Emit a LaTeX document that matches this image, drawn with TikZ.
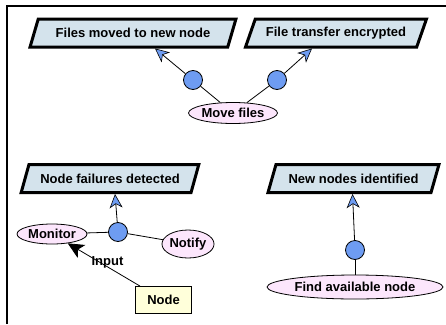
\documentclass[tikz,border=0pt]{standalone}
\usepackage{fontspec}
\setmainfont{Liberation Sans}
\usetikzlibrary{shapes.geometric,arrows.meta}
\definecolor{parafill}{HTML}{D4E3EC}
\definecolor{ellfill}{HTML}{FCE6FC}
\definecolor{circfill}{HTML}{6E9CF2}
\definecolor{boxfill}{HTML}{FFFFDA}
\tikzset{
  lbl/.style={font=\fontsize{13pt}{15pt}\selectfont\bfseries},
  para/.style={lbl, trapezium, trapezium left angle=55, trapezium right angle=125,
    trapezium stretches=true, draw=black, line width=3pt, fill=parafill,
    minimum height=28pt, inner sep=0pt},
  oval/.style={lbl, ellipse, draw=black, line width=0.8pt, fill=ellfill, inner sep=0pt},
  dot/.style={circle, draw=black, line width=0.8pt, fill=circfill, minimum size=19pt, inner sep=0pt},
  boxnode/.style={lbl, rectangle, draw=black, line width=0.8pt, fill=boxfill,
    minimum width=56pt, minimum height=27pt, inner sep=0pt},
  conn/.style={draw=black, line width=0.8pt},
  bluearr/.style={conn, -{Stealth[length=14pt,width=13pt,inset=4pt,fill=circfill,line width=0.6pt]}},
  blackarr/.style={conn, -{Stealth[length=16pt,width=15pt,inset=4pt]}}
}
\begin{document}
\begin{tikzpicture}[x=1pt,y=-1pt]
\useasboundingbox (0,0) rectangle (446,324);
\draw[line width=2pt] (7,324) -- (7,6) -- (446,6);

\node[para, minimum width=206pt] (p1) at (133,33) {Files moved to new node};
\node[para, minimum width=181pt] (p2) at (336,33) {File transfer encrypted};
\node[para, minimum width=178pt] (p3) at (110,178.5) {Node failures detected};
\node[para, minimum width=171pt] (p4) at (353.5,178.5) {New nodes identified};

\node[dot] (c1) at (193,80) {};
\node[dot] (c2) at (277,80) {};
\node[dot] (c3) at (118,232) {};
\node[dot] (c4) at (355,250) {};

\node[oval, minimum width=87pt, minimum height=21pt] (mf) at (233,113) {Move files};
\node[oval, minimum width=70pt, minimum height=20pt] (mon) at (52,234) {Monitor};
\node[oval, minimum width=50pt, minimum height=28pt] (nt) at (188,244) {Notify};
\node[oval, minimum width=176pt, minimum height=24pt] (fa) at (355,287) {Find available node};
\node[boxnode] (nd) at (163.5,300) {Node};

\draw[conn] (mf) -- (c1);
\draw[conn] (mf) -- (c2);
\draw[bluearr] (c1) -- ([xshift=22pt]p1.south);
\draw[bluearr] (c2) -- ([xshift=-24pt]p2.south);

\draw[conn] (mon) -- (c3);
\draw[conn] (c3) -- (nt);
\draw[bluearr] (c3) -- ([xshift=5pt]p3.south);

\draw[conn] (fa) -- (c4);
\draw[bluearr] (c4) -- ([xshift=-1pt]p4.south);

\draw[blackarr] (nd) -- (mon) node[lbl, pos=0.45, yshift=4pt] {Input};
\end{tikzpicture}
\end{document}
